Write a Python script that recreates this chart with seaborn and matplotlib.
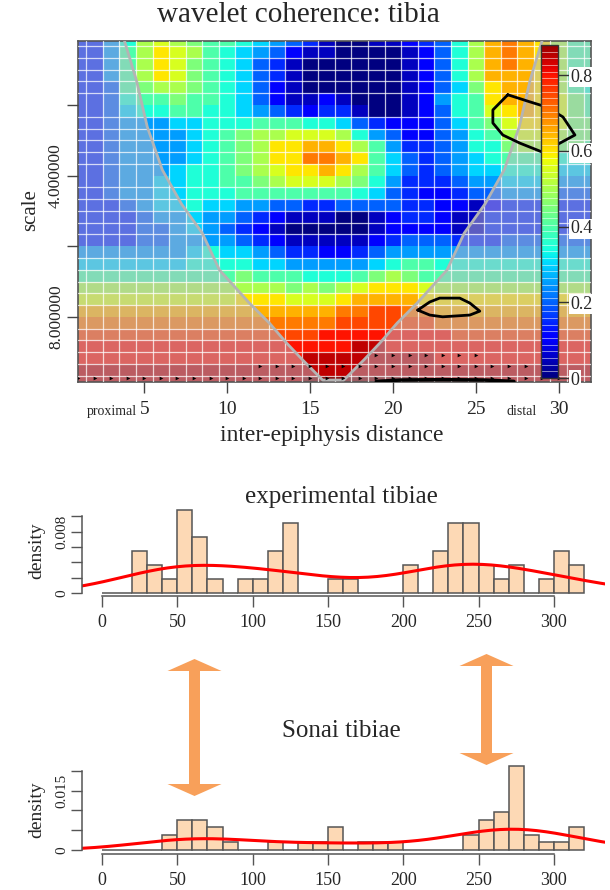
import numpy as np
import pandas as pd
import matplotlib
matplotlib.use("Agg")
import matplotlib.pyplot as plt
from matplotlib.patches import Polygon, FancyArrow
import seaborn as sns

sns.set_theme(style="white")
plt.rcParams['font.family'] = ['Liberation Serif', 'DejaVu Serif']

# wavelet coherence: one string per scale row (small scale first),
# one character per distance 1..32.  '0'..'i' = 0.00 .. 0.90 in steps of 0.05
levels = "0123456789abcdefghi"
coh_rows = [
    "3357aba988765431" + "00112347aded" + "ca88",
    "3358acba87654211" + "00001247aded" + "ca88",
    "3358acb987643100" + "00001247aded" + "ca88",
    "3358acb987643100" + "00001247addd" + "ca88",
    "33489aa987642100" + "000012469cdd" + "ca87",
    "3347889887642112" + "100012578cdd" + "cb98",
    "3346778877654323" + "310012478bcd" + "cb98",
    "3345556677788877" + "6432224689bc" + "cb99",
    "33455556789aabbb" + "a754224578ab" + "ba99",
    "33455556789accdd" + "ca853345779a" + "a998",
    "33455556789accee" + "dc8643456788" + "8777",
    "33455567789abccd" + "ca8643456677" + "7666",
    "334556677889abbb" + "a97533345566" + "6555",
    "3345566777888888" + "876432234455" + "5444",
    "3334566766554433" + "444433221233" + "3333",
    "3333455655432111" + "001233211333" + "3333",
    "3333445654321000" + "001222211333" + "3333",
    "3333445555432111" + "112344433344" + "4444",
    "5555555676654332" + "234555555555" + "5555",
    "6666666777766555" + "556788777777" + "7777",
    "8888888888988877" + "789a98888888" + "8888",
    "aaaaaaaaaaaaa9a9" + "abcccbaaaaaa" + "aaaa",
    "bbbbbbbbbbcccbbb" + "cddddccccccc" + "cccc",
    "dddddddddddddddd" + "eeffeedddddd" + "dddd",
    "eeeeeeeeeeeeeeee" + "ffffffeeeeee" + "eeee",
    "fffffffffffffffg" + "gggggggfffff" + "ffff",
    "gggggggggggggggg" + "ghhggggggggg" + "gggg",
    "gggggggggggggghh" + "hhhhhhgggggg" + "gggg",
    "hhhhhhhhhhhhhhhh" + "hhhhhhhhhhhh" + "hhhh",
    "hhhhhhhhhhhhhhii" + "iiiiihhhhhhh" + "hhhh",
]
distance = list(range(1, 33))

# cone of influence: edge distances for each scale
cone_s = [0.16, 1.29, 2.62, 3.84, 4.80, 5.63, 6.67, 7.61, 8.18, 8.74, 9.22, 9.79]
cone_left = [3.79, 4.52, 5.18, 6.09, 7.24, 8.50, 9.53, 11.34, 12.55, 13.58, 14.55, 15.76]
cone_right = [29.01, 28.28, 27.62, 26.71, 25.56, 24.30, 23.27, 21.46, 20.25, 19.22, 18.25, 17.04]

# significance contours (distance, scale)
sig1_d = [26.93, 26.03, 26.03, 26.63, 27.66, 29.05, 30.98, 30.26, 29.29, 28.26, 26.93]
sig1_s = [1.71, 2.14, 2.51, 2.85, 3.08, 3.34, 2.85, 2.34, 2.06, 1.91, 1.71]
sig2_d = [21.5, 22.22, 22.82, 24.03, 24.64, 25.24, 24.64, 23.0, 22.22, 21.5]
sig2_s = [7.81, 7.58, 7.47, 7.47, 7.61, 7.84, 7.95, 8.0, 7.95, 7.81]
sig3_d = [19.0, 20.5, 23.0, 25.5, 27.3]
sig3_s = [9.83, 9.79, 9.78, 9.79, 9.83]

# phase arrows: scale, first and last distance
phase_s = [9.07, 9.39, 9.73]
phase_first = [19, 12, 1]
phase_last = [25, 28, 31]

# histogram counts, 10-unit bins starting at 0
bin_start = list(range(0, 320, 10))
exp_counts = [0, 0, 3, 2, 1, 6, 4, 1, 0, 1, 1, 3, 5, 0, 0, 1,
              1, 0, 0, 0, 2, 0, 3, 5, 5, 2, 1, 2, 0, 1, 3, 2]
sonai_counts = [0, 0, 0, 0, 2, 4, 4, 3, 1, 0, 0, 1, 0, 1, 1, 3,
                0, 1, 1, 1, 0, 0, 0, 0, 2, 4, 5, 11, 2, 1, 1, 3]

W, H = 610, 890
fig = plt.figure(figsize=(W / 100, H / 100), dpi=100)


def box(x0, y0, x1, y1):
    return [x0 / W, 1 - y1 / H, (x1 - x0) / W, (y1 - y0) / H]


def hx(d):
    return np.asarray(d, dtype=float) - 0.5


def hy(s):
    return np.asarray(s, dtype=float) * 3.0


# ---------------- wavelet coherence ----------------
ax = fig.add_axes(box(78, 40.7, 590.5, 382))
cax = fig.add_axes(box(541, 45, 558, 378))

coh = np.array([[levels.index(c) for c in row] for row in coh_rows]) * 0.05
df = pd.DataFrame(coh, columns=distance)
sns.heatmap(df, cmap="jet", vmin=0, vmax=0.9, ax=ax, cbar_ax=cax,
            xticklabels=False, yticklabels=False)

lx, ly, rx = hx(cone_left), hy(cone_s), hx(cone_right)
pts = [(-2, -2)] + list(zip(lx, ly)) + list(zip(rx[::-1], ly[::-1])) + [(34, -2), (34, 32), (-2, 32)]
ax.add_patch(Polygon(pts, closed=True, facecolor="#b8b8c4", alpha=0.5,
                     edgecolor="none", zorder=2))
ax.plot(np.r_[lx, rx[::-1]], np.r_[ly, ly[::-1]], color="#b4b4b4", lw=2, zorder=3)

ax.set_xticks(np.arange(0, 33), minor=True)
ax.set_yticks(np.arange(0, 31), minor=True)
ax.grid(True, which="minor", color="white", lw=0.9, alpha=0.75)
ax.grid(False, which="major")
ax.set_axisbelow(False)

ax.plot(hx(sig1_d), hy(sig1_s), color="black", lw=2, zorder=4)
ax.plot(hx(sig2_d), hy(sig2_s), color="black", lw=2, zorder=4)
ax.plot(hx(sig3_d), hy(sig3_s), color="black", lw=2.5, zorder=4)

for s, a, b in zip(phase_s, phase_first, phase_last):
    d = np.arange(a, b + 1)
    ax.scatter(hx(d), np.full(len(d), hy(s)), marker=">", s=7, color="black",
               linewidths=0, zorder=4)

ax.set_xlim(0.5, 31.42)
ax.set_ylim(29.54, 0.535)
ax.set_xticks(hx([5, 10, 15, 20, 25, 30]))
ax.set_xticklabels(["5", "10", "15", "20", "25", "30"], fontsize=14)
ax.set_yticks(hy([2, 4, 6, 8]))
ax.set_yticklabels(["", "4.000000", "", "8.000000"], rotation=90, va="center", fontsize=12.5)
ax.tick_params(which="minor", length=0)
ax.tick_params(which="major", direction="out", length=8, width=1, color="#444",
               bottom=True, left=True)
ax.tick_params(axis="x", pad=6)
ax.tick_params(axis="y", pad=2)
for sp in ax.spines.values():
    sp.set_visible(True)
    sp.set_color("#555555")
    sp.set_linewidth(1.2)

ax.set_xlabel("inter-epiphysis distance", fontsize=17)
ax.xaxis.set_label_coords(0.496, -0.127)
ax.set_ylabel("scale", fontsize=15)
ax.yaxis.set_label_coords(-0.074, 0.504)
ax.text(0.066, -0.085, "proximal", transform=ax.transAxes, ha="center", va="center", fontsize=10)
ax.text(0.866, -0.085, "distal", transform=ax.transAxes, ha="center", va="center", fontsize=10)
fig.text(298 / W, 1 - 15 / H, "wavelet coherence: tibia", ha="center", va="center", fontsize=21)

cb = ax.collections[0].colorbar
cb.set_ticks([0, 0.2, 0.4, 0.6, 0.8], labels=["0", "0.2", "0.4", "0.6", "0.8"])
cax.set_ylim(0, 0.88)
cb.outline.set_linewidth(1)
cb.outline.set_edgecolor("#333333")
cax.hlines(np.arange(0.0176, 0.88, 0.0176), 0, 1, colors="white", lw=0.6, alpha=0.6)
cax.tick_params(axis="y", right=True, length=8, width=1, color="#333333",
                labelsize=13, pad=1)
for t in cax.get_yticklabels():
    t.set_bbox(dict(facecolor="white", edgecolor="none", pad=1))

# ---------------- histograms ----------------
edges = bin_start + [320]
mids = np.array(bin_start) + 5
panels = [
    ("experimental tibiae", exp_counts, box(82, 505, 605, 596), (-0.0004, 0.0115),
     [0, 0.002, 0.004, 0.006, 0.008, 0.010], ["0", "", "", "", "0.008", ""], 497),
    ("Sonai tibiae", sonai_counts, box(82, 765, 605, 854), (-0.001, 0.0215),
     [0, 0.005, 0.010, 0.015, 0.020], ["0", "", "", "0.015", ""], 731),
]
for title, counts, rect, ylim, yt, ylab, ty in panels:
    axh = fig.add_axes(rect)
    sns.histplot(x=mids, weights=counts, bins=edges, stat="density", color="#fdd9b5",
                 edgecolor="#555555", linewidth=1.1, alpha=1, ax=axh)
    sns.kdeplot(x=mids, weights=counts, bw_method=0.39, color="red", lw=2.2, cut=4, ax=axh)
    axh.set_xlim(-13.3, 334)
    axh.set_ylim(*ylim)
    sns.despine(ax=axh)
    axh.spines["bottom"].set_bounds(0, 300)
    axh.spines["left"].set_bounds(0, yt[-1])
    for k in ("bottom", "left"):
        axh.spines[k].set_color("#555555")
        axh.spines[k].set_linewidth(1.1)
    axh.set_xticks(range(0, 301, 50))
    axh.set_xticklabels([str(v) for v in range(0, 301, 50)], fontsize=13)
    axh.set_yticks(yt)
    axh.set_yticklabels(ylab, rotation=90, va="center", fontsize=11)
    axh.tick_params(direction="out", length=8, width=1, color="#555555", bottom=True, left=True)
    axh.tick_params(axis="x", pad=5)
    axh.tick_params(axis="y", pad=2)
    axh.set_xlabel("")
    axh.set_ylabel("density", fontsize=14)
    axh.yaxis.set_label_coords(-0.071, 0.5)
    fig.text(341 / W, 1 - ty / H, title, ha="center", va="center", fontsize=18)

# double-headed arrows linking the peaks (two overlapping single-headed arrows)
head = 0.12
for x, top, bot in [(1.945, 2.31, 0.94), (4.865, 2.36, 1.25)]:
    for start, end in ((bot + head, top), (top - head, bot)):
        fig.add_artist(FancyArrow(x, start, 0, end - start, width=0.11, head_width=0.54,
                                  head_length=head, length_includes_head=True,
                                  color="#f8a05a", lw=0, transform=fig.dpi_scale_trans))

plt.savefig("out.png", dpi=100)
